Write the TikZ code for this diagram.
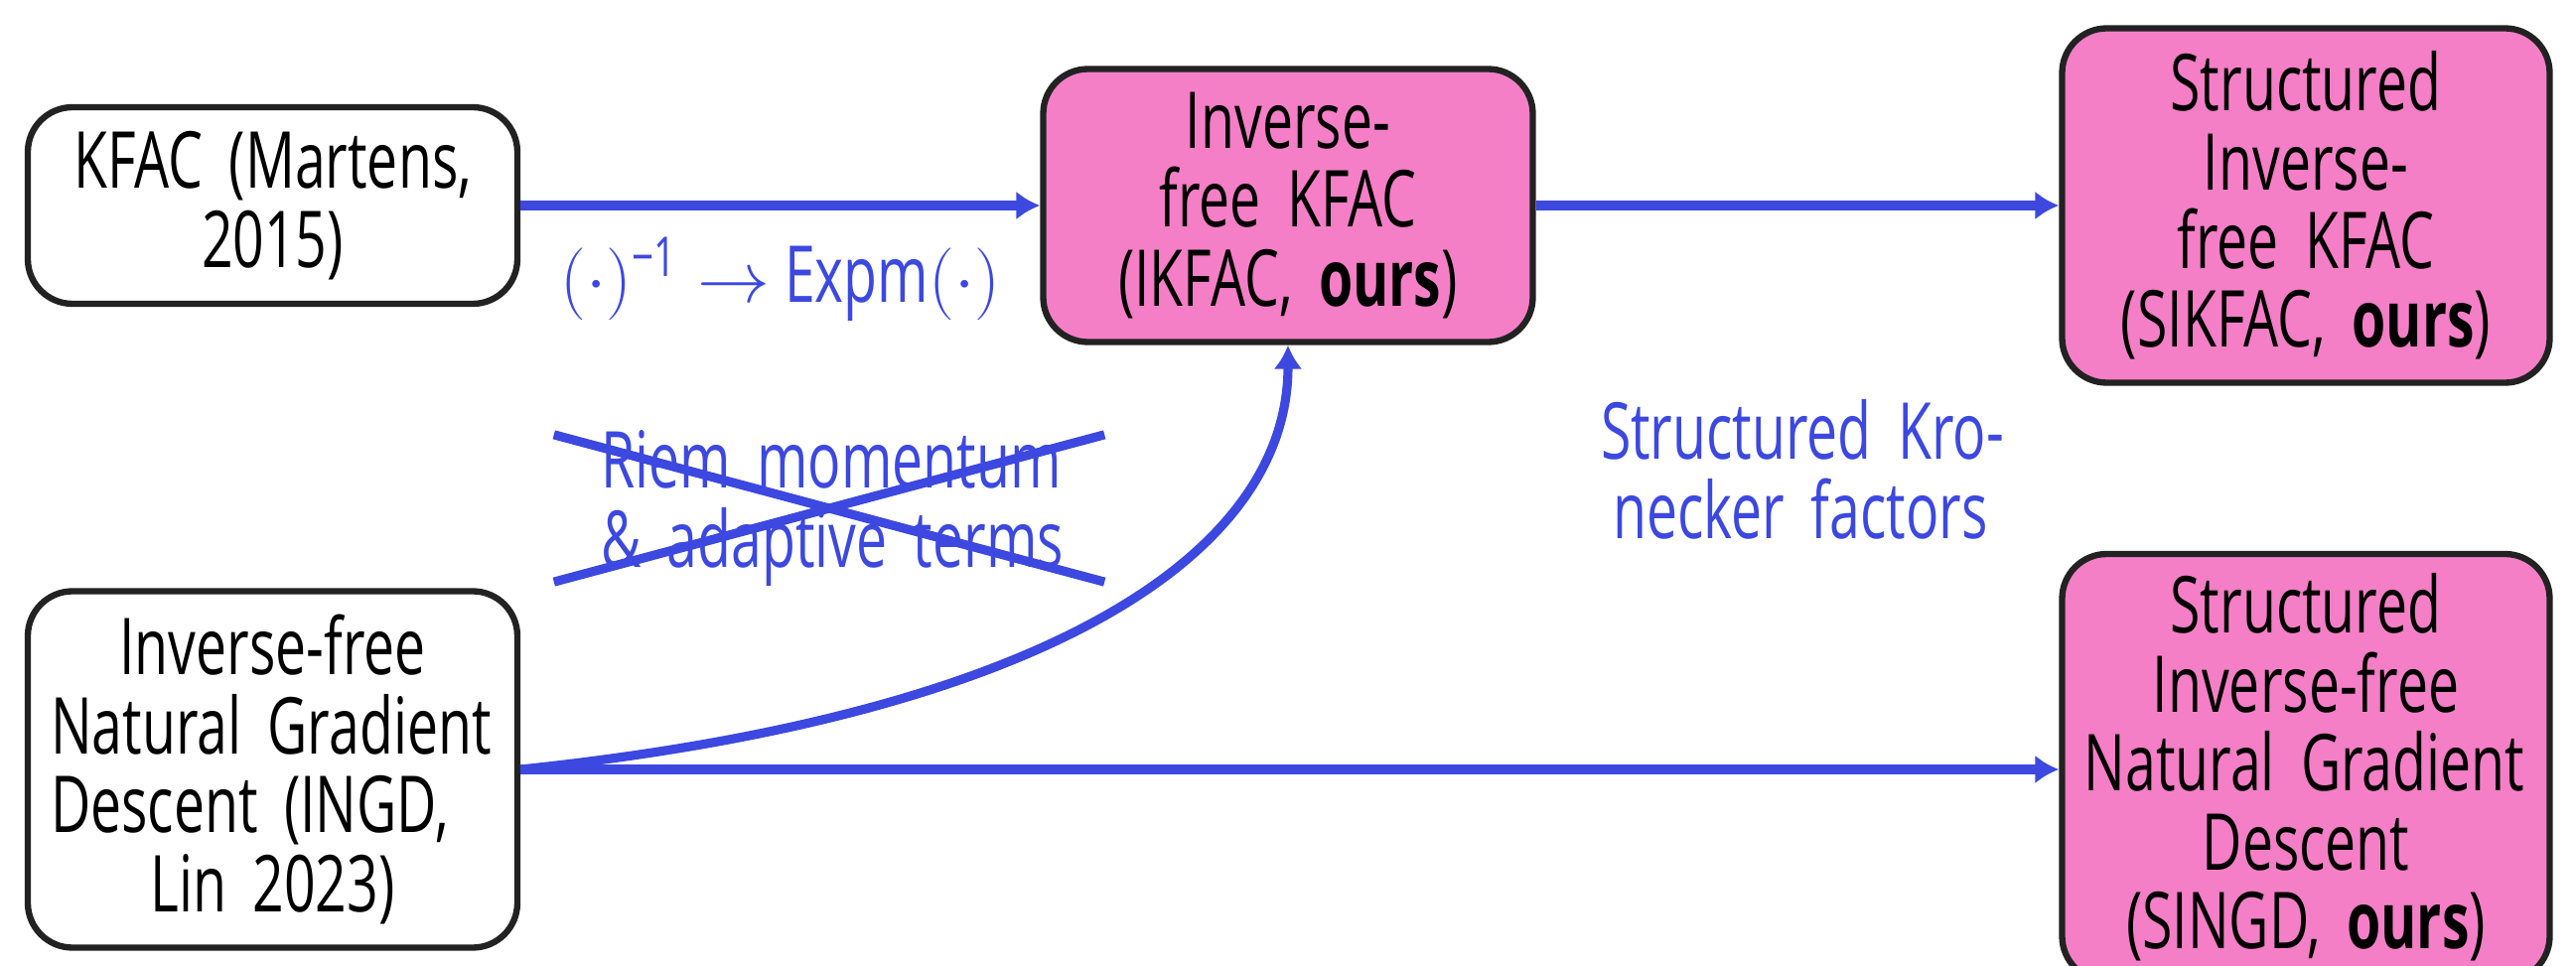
\documentclass[tikz,border=0pt]{standalone}
\usepackage{amsmath}
\usepackage{fontspec}
\setmainfont{Open Sans}[FakeStretch=0.7]
\usepackage{xcolor}
\usepackage{tikz}
\usetikzlibrary{arrows.meta}

\definecolor{boxpink}{HTML}{F47FC6}
\definecolor{arrowblue}{HTML}{3C48E0}
\definecolor{edgegray}{HTML}{222222}

% a line stretched over the whole text width
\newcommand{\wideline}[1]{\makebox[\linewidth][s]{#1}}

\tikzset{
  method/.style={draw=edgegray, line width=1.8pt, rounded corners=0.45cm,
    fill=white, align=center, text width=4.47cm, minimum width=4.93cm,
    font=\fontsize{22.5}{22.6}\selectfont},
  ours/.style={method, fill=boxpink},
  flow/.style={draw=arrowblue, line width=2.6pt,
    -{Latex[length=2.4mm,width=2.9mm]}},
  note/.style={text=arrowblue, align=center,
    font=\fontsize{22.5}{22.6}\selectfont}
}

\begin{document}
\begin{tikzpicture}
\useasboundingbox (0,0) rectangle (25.94,-9.73);

% left column
\node[method, minimum height=1.98cm] (kfac) at (2.745,-2.07) {KFAC (Martens,\\2015)};
\node[method, minimum height=3.59cm] (ingd) at (2.745,-7.75) {Inverse-free\\\wideline{Natural Gradient}\\\wideline{Descent (INGD,}\\Lin 2023)};

% middle
\node[ours, minimum height=2.75cm] (ikfac) at (12.97,-2.07) {Inverse-\\free KFAC\\(IKFAC, \textbf{ours})};

% right column
\node[ours, minimum height=3.57cm, minimum width=4.91cm] (sikfac) at (23.22,-2.07) {Structured\\Inverse-\\free KFAC\\(SIKFAC, \textbf{ours})};
\node[ours, minimum height=4.3cm, minimum width=4.91cm] (singd) at (23.22,-7.73) {Structured\\Inverse-free\\\wideline{Natural Gradient}\\Descent\\(SINGD, \textbf{ours})};

% arrows
\draw[flow] (kfac) -- (ikfac);
\draw[flow] (ikfac) -- (sikfac);
\draw[flow] (ingd.east) -- (singd.west |- ingd.east);
\draw[flow] (ingd.east) .. controls (10.5,-7.2) and (12.97,-5.6) .. (ikfac.south);

% labels
\node[note] (expm) at (7.86,-2.81) {$(\cdot)^{\text{−1}}\rightarrow$ Expm$(\cdot)$};
\node[note, text width=4.02cm] (kron) at (18.13,-4.73) {\wideline{Structured Kro-}\\necker factors};
\node[note, text width=4.6cm, minimum width=5.53cm, minimum height=1.49cm] (riem) at (8.35,-5.12) {\wideline{Riem momentum}\\\wideline{\& adaptive terms}};
% struck out
\draw[arrowblue, line width=2.6pt] ([yshift=-1.65mm]riem.north west) -- ([yshift=1.65mm]riem.south east);
\draw[arrowblue, line width=2.6pt] ([yshift=1.65mm]riem.south west) -- ([yshift=-1.65mm]riem.north east);

\end{tikzpicture}
\end{document}
